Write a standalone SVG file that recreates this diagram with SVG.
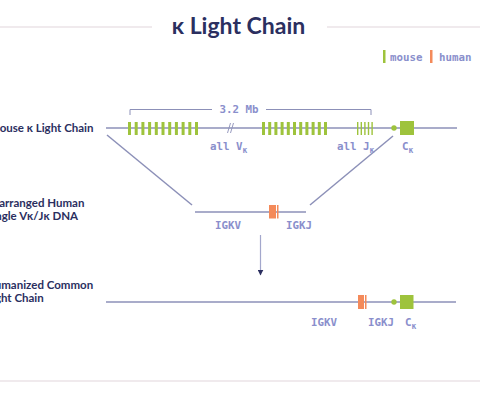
<svg xmlns="http://www.w3.org/2000/svg" width="480" height="400" viewBox="0 0 480 400">
<style>
.rule{stroke:#ebe3e7;stroke-width:1.5}
.dna{stroke:#8c90b8;stroke-width:1.5;fill:none}
.title{font-family:Lato,"Noto Sans",sans-serif;font-weight:700;font-size:23px;fill:#2b2f5f}
.lbl{font-family:Lato,"Noto Sans",sans-serif;font-weight:700;font-size:11.5px;fill:#2b2f5f}
.mono{font-family:"DejaVu Sans Mono","Liberation Mono",monospace;font-weight:700;font-size:10.8px;fill:#8a8fcc}
.sub{font-size:8px}
.g{fill:#9ec33c}
.h{fill:#f48a5a}
</style>
<defs>
<marker id="ah" viewBox="0 0 10 10" refX="9" refY="5" markerWidth="6" markerHeight="6" orient="auto" markerUnits="userSpaceOnUse">
<path d="M0,0 L10,5 L0,10 Z" fill="#2b2f5f"/>
</marker>
</defs>
<rect width="480" height="400" fill="#ffffff"/>
<line class="rule" x1="0" y1="27" x2="152" y2="27"/>
<line class="rule" x1="327" y1="27" x2="480" y2="27"/>
<text class="title" x="238.5" y="34" text-anchor="middle">κ Light Chain</text>
<line class="rule" x1="0" y1="381" x2="480" y2="381"/>

<g id="legend">
<rect class="g" x="383" y="50" width="2.5" height="13"/>
<text class="mono" x="390" y="61">mouse</text>
<rect class="h" x="430" y="50" width="2.5" height="13"/>
<text class="mono" x="439" y="61">human</text>
</g>

<g id="connectors">
<line class="dna" x1="107" y1="135" x2="192" y2="205" stroke-width="1"/>
<line class="dna" x1="393" y1="136" x2="310" y2="205" stroke-width="1"/>
<line x1="260.5" y1="235" x2="260.5" y2="275" stroke="#a3a7cc" stroke-width="1.2" marker-end="url(#ah)"/>
</g>

<g id="mouse-kappa">
<text class="lbl" x="-11" y="132">Mouse κ Light Chain</text>
<line class="dna" x1="106" y1="128" x2="457" y2="128"/>
<path d="M130,115 V109.5 H212 M266,109.5 H371 V115" stroke="#8c90b8" stroke-width="1" fill="none"/>
<text class="mono" x="239" y="113" text-anchor="middle">3.2 Mb</text>
<g class="g">
<rect x="128" y="122" width="3" height="13"/><rect x="134.7" y="122" width="3" height="13"/><rect x="141.4" y="122" width="3" height="13"/><rect x="148.1" y="122" width="3" height="13"/><rect x="154.8" y="122" width="3" height="13"/><rect x="161.5" y="122" width="3" height="13"/><rect x="168.2" y="122" width="3" height="13"/><rect x="174.9" y="122" width="3" height="13"/><rect x="181.6" y="122" width="3" height="13"/><rect x="188.3" y="122" width="3" height="13"/><rect x="195" y="122" width="3" height="13"/>
<rect x="262" y="122" width="3" height="13"/><rect x="268.2" y="122" width="3" height="13"/><rect x="274.4" y="122" width="3" height="13"/><rect x="280.6" y="122" width="3" height="13"/><rect x="286.8" y="122" width="3" height="13"/><rect x="293" y="122" width="3" height="13"/><rect x="299.2" y="122" width="3" height="13"/><rect x="305.4" y="122" width="3" height="13"/><rect x="311.6" y="122" width="3" height="13"/><rect x="317.8" y="122" width="3" height="13"/><rect x="324" y="122" width="3" height="13"/>
<rect x="357" y="122" width="1.4" height="13"/><rect x="360.6" y="122" width="1.4" height="13"/><rect x="364.2" y="122" width="1.4" height="13"/><rect x="367.8" y="122" width="1.4" height="13"/><rect x="371.4" y="122" width="1.4" height="13"/>
<circle cx="394" cy="128" r="2.7"/>
<rect x="400" y="121" width="14" height="14"/>
</g>
<path d="M227.5,133 L230.5,123 M230.5,133 L233.5,123" stroke="#8c90b8" stroke-width="0.9"/>
<text class="mono" x="210" y="150">all V<tspan class="sub" dy="3">κ</tspan></text>
<text class="mono" x="337" y="150">all J<tspan class="sub" dy="3">κ</tspan></text>
<text class="mono" x="402" y="150">C<tspan class="sub" dy="3">κ</tspan></text>
</g>

<g id="rearranged-human">
<text class="lbl" x="-14" y="207">Rearranged Human</text>
<text class="lbl" x="-14" y="220">Single Vκ/Jκ DNA</text>
<line class="dna" x1="195" y1="212" x2="306" y2="212"/>
<rect class="h" x="269" y="205" width="7" height="13.5"/>
<rect class="h" x="277" y="205" width="1.5" height="13.5"/>
<text class="mono" x="215" y="229">IGKV</text>
<text class="mono" x="286" y="229">IGKJ</text>
</g>

<g id="humanized">
<text class="lbl" x="-14" y="289">Humanized Common</text>
<text class="lbl" x="-14" y="302">Light Chain</text>
<line class="dna" x1="106" y1="302" x2="456" y2="302"/>
<rect class="h" x="358" y="295" width="6" height="14"/>
<rect class="h" x="365" y="295" width="1.5" height="14"/>
<circle class="g" cx="394" cy="302" r="2.7"/>
<rect class="g" x="400" y="295" width="13.5" height="14"/>
<text class="mono" x="311" y="326">IGKV</text>
<text class="mono" x="368" y="326">IGKJ</text>
<text class="mono" x="405" y="326">C<tspan class="sub" dy="3">κ</tspan></text>
</g>
</svg>
